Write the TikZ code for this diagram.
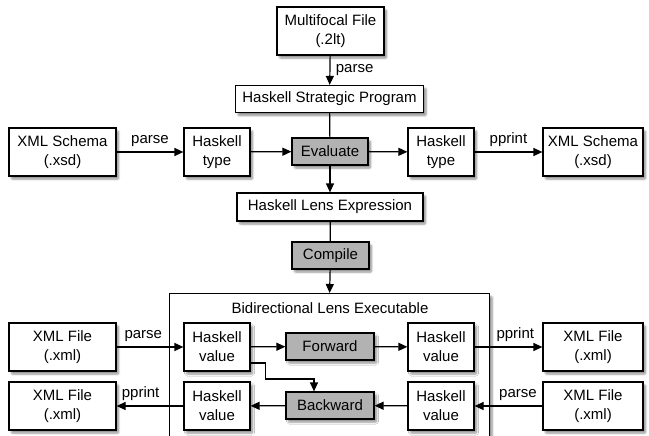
\documentclass[tikz,border=0pt]{standalone}
\usepackage{fontspec}
\setmainfont{Liberation Sans}
\usetikzlibrary{arrows.meta,shadows.blur,calc}
\tikzset{
  bx/.style={draw, line width=1.2pt, fill=white, inner sep=0pt, align=center,
    blur shadow={shadow xshift=2.5pt, shadow yshift=-3pt, shadow blur steps=6, shadow opacity=45, shadow blur extra rounding=1pt},
    font=\fontsize{15}{19}\selectfont},
  gbx/.style={bx, fill=gray!60},
  fbox/.style={bx, minimum width=107pt, minimum height=48pt},
  hbox/.style={bx, minimum width=66pt, minimum height=48pt},
  wbox/.style={bx, minimum width=188pt, minimum height=27pt},
  ln/.style={line width=1.2pt},
  arr/.style={ln, -{Triangle[length=9pt,width=8pt]}},
  lbl/.style={font=\fontsize{15}{19}\selectfont, above=1pt},
}
\begin{document}
\begin{tikzpicture}[x=1pt,y=-1pt]
\useasboundingbox (0,0) rectangle (649,436);
% big box
\node[bx, draw, minimum width=320pt, minimum height=170pt, anchor=north west] (big) at (169,293) {};
\node[font=\fontsize{15}{19}\selectfont] (bt) at (330,308) {Bidirectional Lens Executable};
% top
\node[fbox] (mf) at (330.5,31) {Multifocal File\\(.2lt)};
\node[wbox] (hsp) at (329.5,99) {Haskell Strategic Program};
\node[fbox] (xs1) at (62.5,152) {XML Schema\\(.xsd)};
\node[hbox] (ht1) at (217,152) {Haskell\\type};
\node[gbx, minimum width=76pt, minimum height=27pt] (ev) at (330,151.5) {Evaluate};
\node[hbox] (ht2) at (441,152) {Haskell\\type};
\node[fbox, minimum width=100pt] (xs2) at (593,152) {XML Schema\\(.xsd)};
\node[wbox, minimum width=186pt, minimum height=28pt] (hle) at (330,207) {Haskell Lens Expression};
\node[gbx, minimum width=77pt, minimum height=27pt] (cmp) at (330.5,255.5) {Compile};
% bottom
\node[fbox] (xf1) at (62.5,347) {XML File\\(.xml)};
\node[fbox] (xf2) at (62.5,406) {XML File\\(.xml)};
\node[hbox] (hv1) at (217,347) {Haskell\\value};
\node[hbox] (hv2) at (217,406) {Haskell\\value};
\node[gbx, minimum width=88pt, minimum height=27pt] (fw) at (330,346.5) {Forward};
\node[gbx, minimum width=88pt, minimum height=27pt] (bw) at (330,405.5) {Backward};
\node[hbox] (hv3) at (441,347) {Haskell\\value};
\node[hbox] (hv4) at (441,406) {Haskell\\value};
\node[fbox, minimum width=100pt] (xf3) at (593,347) {XML File\\(.xml)};
\node[fbox, minimum width=100pt] (xf4) at (593,406) {XML File\\(.xml)};
% connectors
\draw[arr] (mf) -- node[font=\fontsize{15}{19}\selectfont, right=2pt] {parse} (hsp);
\draw[ln] (hsp) -- (ev);
\draw[arr] (ev) -- (hle);
\draw[ln] (hle) -- (cmp);
\draw[arr] (cmp) -- (big.north);
\draw[arr] (xs1) -- node[lbl] {parse} (ht1);
\draw[arr] (ht1) -- (ev);
\draw[arr] (ev) -- (ht2);
\draw[arr] (ht2) -- node[lbl] {pprint} (xs2);
\draw[arr] (xf1) -- node[lbl, pos=0.4] {parse} (hv1);
\draw[arr] (hv2) -- node[lbl, pos=0.64] {pprint} (xf2);
\draw[arr] (hv1) -- (fw);
\draw[arr] (fw) -- (hv3);
\draw[arr] (hv3) -- node[lbl, pos=0.6] {pprint} (xf3);
\draw[arr] (xf4) -- node[lbl, pos=0.36] {parse} (hv4);
\draw[arr] (hv4) -- (bw);
\draw[arr] (bw) -- (hv2);
\draw[arr] ([yshift=-16pt]hv1.east) -- ++(15pt,0) -- ++(0,-16pt) -| ([xshift=-16pt]bw.north);
\end{tikzpicture}
\end{document}
